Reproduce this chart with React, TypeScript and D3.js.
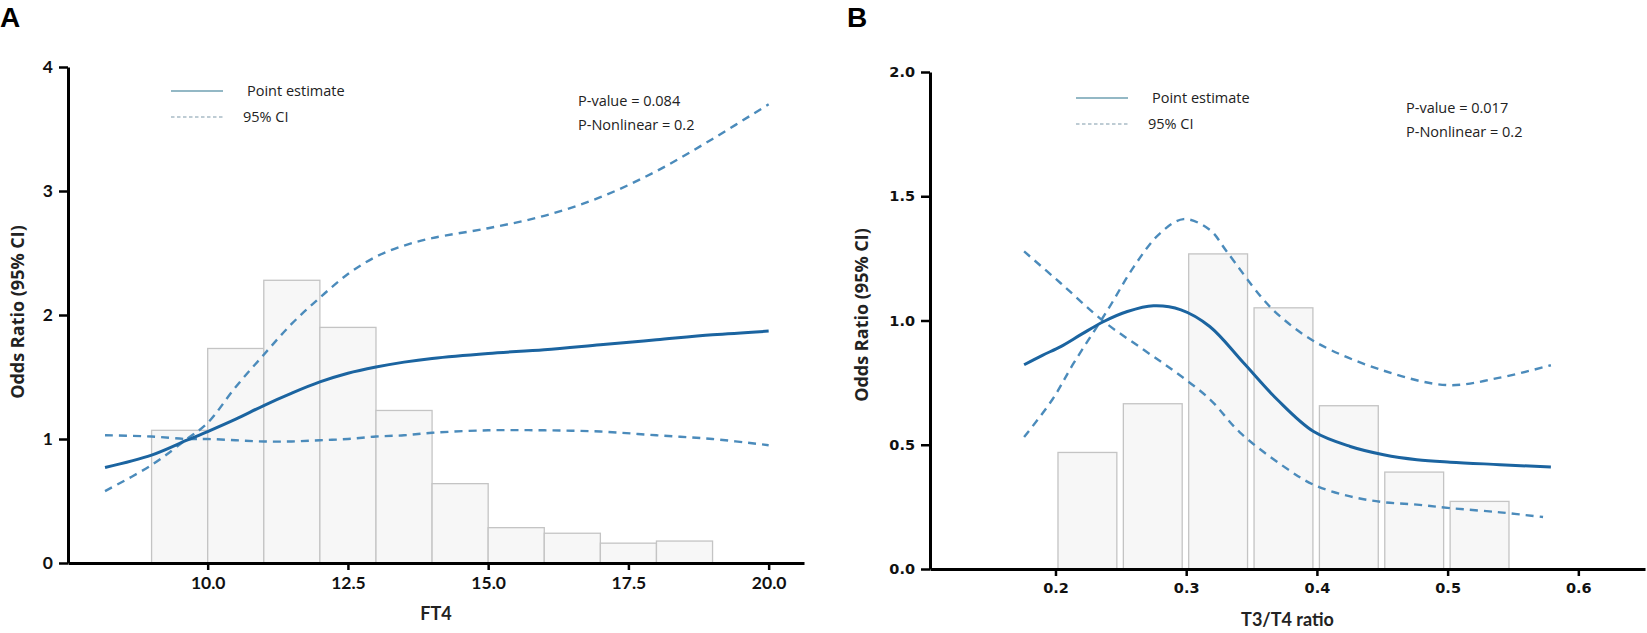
import * as d3 from 'd3';
import { useEffect, useRef } from 'react';

// FT4 panel (A)
const ft4Edges = [9, 10, 11, 12, 13, 14, 15, 16, 17, 18];
const ft4Hist = [1.07, 1.73, 2.28, 1.9, 1.23, 0.64, 0.285, 0.24, 0.16, 0.177];
const ft4Grid = [8.17, 9, 9.63, 10, 10.5, 11, 11.5, 12, 12.5, 13, 13.5, 14, 15, 16, 17, 18, 19, 20];
const ft4Estimate = [0.77, 0.87, 0.99, 1.06, 1.16, 1.27, 1.37, 1.46, 1.53, 1.58, 1.62, 1.65, 1.69, 1.72, 1.76, 1.8, 1.84, 1.87];
const ft4Upper = [0.58, 0.79, 1.0, 1.13, 1.42, 1.68, 1.93, 2.14, 2.33, 2.47, 2.56, 2.62, 2.7, 2.8, 2.95, 3.16, 3.42, 3.7];
const ft4Lower = [1.03, 1.02, 1.0, 1.0, 0.99, 0.98, 0.98, 0.99, 1.0, 1.02, 1.03, 1.05, 1.07, 1.07, 1.06, 1.03, 1.0, 0.95];
const ft4XTicks = [10, 12.5, 15, 17.5, 20];
const ft4YTicks = [0, 1, 2, 3, 4];

// T3/T4 ratio panel (B)
const ratioEdges = [0.2, 0.25, 0.3, 0.35, 0.4, 0.45, 0.5];
const ratioHist = [0.469, 0.665, 1.268, 1.051, 0.657, 0.39, 0.272];
const ratioEstX = [0.176, 0.19, 0.204, 0.22, 0.237, 0.255, 0.275, 0.296, 0.318, 0.344, 0.37, 0.3975, 0.4255, 0.451, 0.4765, 0.502, 0.54, 0.579];
const ratioEst = [0.822, 0.86, 0.895, 0.945, 0.996, 1.036, 1.059, 1.043, 0.976, 0.829, 0.68, 0.553, 0.493, 0.46, 0.44, 0.43, 0.42, 0.41];
const ratioUpX = [0.176, 0.1975, 0.214, 0.24, 0.26, 0.28, 0.298, 0.318, 0.331, 0.357, 0.372, 0.4, 0.45, 0.5, 0.54, 0.579];
const ratioUp = [0.531, 0.681, 0.829, 1.043, 1.217, 1.351, 1.408, 1.365, 1.278, 1.097, 1.016, 0.91, 0.8, 0.74, 0.77, 0.82];
const ratioLoX = [0.176, 0.204, 0.237, 0.2675, 0.293, 0.3185, 0.341, 0.3745, 0.3975, 0.4255, 0.451, 0.4765, 0.502, 0.54, 0.573];
const ratioLo = [1.278, 1.15, 0.996, 0.882, 0.788, 0.681, 0.55, 0.413, 0.339, 0.292, 0.269, 0.259, 0.245, 0.228, 0.209];
const ratioXTicks = [0.2, 0.3, 0.4, 0.5, 0.6];
const ratioYTicks = [0, 0.5, 1, 1.5, 2];

const solidColor = '#1b64a0';
const dashColor = '#4b8bbb';

type AxisProps = {
  scale: d3.ScaleLinear<number, number>;
  orient: 'bottom' | 'left';
  ticks: number[];
  format: string;
  tickSize: number;
  padding: number;
  font: string;
  fontSize: number;
  at: number;
};

const Axis = ({ scale, orient, ticks, format, tickSize, padding, font, fontSize, at }: AxisProps) => {
  const ref = useRef<SVGGElement>(null);
  useEffect(() => {
    if (!ref.current) return;
    const g = d3.select(ref.current);
    const axis = (orient === 'bottom' ? d3.axisBottom(scale) : d3.axisLeft(scale))
      .tickValues(ticks)
      .tickFormat(d3.format(format) as any)
      .tickSize(tickSize)
      .tickSizeOuter(0)
      .tickPadding(padding);
    g.call(axis as any);
    g.select('.domain').attr('stroke', '#000').attr('stroke-width', 3);
    g.selectAll('.tick line').attr('stroke', '#000').attr('stroke-width', 2.5);
    g.selectAll('.tick text')
      .attr('fill', '#111')
      .style('font-family', font)
      .style('font-size', `${fontSize}px`)
      .style('font-weight', 700);
  }, [scale, orient, ticks, format, tickSize, padding, font, fontSize]);
  const transform = orient === 'bottom' ? `translate(0,${at})` : `translate(${at},0)`;
  return <g ref={ref} transform={transform} />;
};

type PanelProps = {
  letter: string;
  left: number;
  x: d3.ScaleLinear<number, number>;
  y: d3.ScaleLinear<number, number>;
  edges: number[];
  hist: number[];
  binWidth: number;
  barInset: [number, number];
  curves: { xs: number[]; ys: number[]; dashed: boolean }[];
  xTicks: number[];
  yTicks: number[];
  xFormat: string;
  yFormat: string;
  tickFont: string;
  tickSize: number;
  xLabel: string;
  yLabelX: number;
  yLabelY: number;
  legendX: number;
  legendY: number;
  pX: number;
  pY: number;
  pValue: string;
  pNonlinear: string;
};

const Panel = (p: PanelProps) => {
  const [x0, x1] = p.x.range();
  const [y0] = p.y.range();
  const line = d3
    .line<[number, number]>()
    .x((d) => p.x(d[0]))
    .y((d) => p.y(d[1]))
    .curve(d3.curveCatmullRom.alpha(0.5));
  const legendFont = { fontFamily: 'Open Sans', fontSize: 14.5, fill: '#222' };

  return (
    <g>
      <text x={p.left} y={27} style={{ fontFamily: 'Liberation Sans', fontSize: 28, fontWeight: 700 }}>
        {p.letter}
      </text>

      {p.edges.map((e, i) => {
        const bx = p.x(e) + p.barInset[0];
        const bw = p.x(e + p.binWidth) - p.x(e) - p.barInset[0] - p.barInset[1];
        return (
          <rect
            key={i}
            x={bx}
            y={p.y(p.hist[i])}
            width={bw}
            height={p.y(0) - p.y(p.hist[i])}
            fill="#f7f7f7"
            stroke="#c4c4c4"
            strokeWidth={1.3}
          />
        );
      })}

      {p.curves.map((c, i) => (
        <path
          key={i}
          d={line(c.xs.map((v, j) => [v, c.ys[j]] as [number, number])) ?? ''}
          fill="none"
          stroke={c.dashed ? dashColor : solidColor}
          strokeWidth={c.dashed ? 2.4 : 3}
          strokeDasharray={c.dashed ? '8,6' : undefined}
        />
      ))}

      <Axis scale={p.x} orient="bottom" ticks={p.xTicks} format={p.xFormat} tickSize={7} padding={7} font={p.tickFont} fontSize={p.tickSize} at={y0} />
      <Axis scale={p.y} orient="left" ticks={p.yTicks} format={p.yFormat} tickSize={9} padding={6} font={p.tickFont} fontSize={p.tickSize} at={x0} />

      <text
        x={(x0 + x1) / 2}
        y={y0 + 57}
        textAnchor="middle"
        style={{ fontFamily: 'Lato', fontSize: 18, fontWeight: 700, fill: '#222' }}
      >
        {p.xLabel}
      </text>
      <text
        transform={`translate(${p.yLabelX},${p.yLabelY}) rotate(-90)`}
        textAnchor="middle"
        style={{ fontFamily: 'Open Sans', fontSize: 18, fontWeight: 700, fill: '#222' }}
      >
        Odds Ratio (95% CI)
      </text>

      <line x1={p.legendX} x2={p.legendX + 52} y1={p.legendY} y2={p.legendY} stroke="#6fa0b2" strokeWidth={1.6} />
      <text x={p.legendX + 76} y={p.legendY + 5} style={legendFont}>
        Point estimate
      </text>
      <line
        x1={p.legendX}
        x2={p.legendX + 52}
        y1={p.legendY + 26}
        y2={p.legendY + 26}
        stroke="#a9bcc6"
        strokeWidth={1.4}
        strokeDasharray="3.5,2.5"
      />
      <text x={p.legendX + 72} y={p.legendY + 31} style={legendFont}>
        95% CI
      </text>

      <text x={p.pX} y={p.pY} style={legendFont}>
        {p.pValue}
      </text>
      <text x={p.pX} y={p.pY + 24} style={legendFont}>
        {p.pNonlinear}
      </text>
    </g>
  );
};

export default function App() {
  const xA = d3.scaleLinear().domain([7.51, 20.63]).range([68, 804]);
  const yA = d3.scaleLinear().domain([0, 4]).range([563, 67]);
  const xB = d3.scaleLinear().domain([0.104, 0.651]).range([930, 1645]);
  const yB = d3.scaleLinear().domain([0, 2]).range([569, 72]);

  return (
    <svg width={1647} height={633} style={{ position: 'absolute', left: 0, top: 0, background: '#fff' }}>
      <Panel
        letter="A"
        left={0}
        x={xA}
        y={yA}
        edges={ft4Edges}
        hist={ft4Hist}
        binWidth={1}
        barInset={[0, 0]}
        curves={[
          { xs: ft4Grid, ys: ft4Upper, dashed: true },
          { xs: ft4Grid, ys: ft4Lower, dashed: true },
          { xs: ft4Grid, ys: ft4Estimate, dashed: false },
        ]}
        xTicks={ft4XTicks}
        yTicks={ft4YTicks}
        xFormat=".1f"
        yFormat="d"
        tickFont="Lato"
        tickSize={17.5}
        xLabel="FT4"
        yLabelX={24}
        yLabelY={312}
        legendX={171}
        legendY={91}
        pX={578}
        pY={106}
        pValue="P-value = 0.084"
        pNonlinear="P-Nonlinear = 0.2"
      />
      <Panel
        letter="B"
        left={847}
        x={xB}
        y={yB}
        edges={ratioEdges}
        hist={ratioHist}
        binWidth={0.05}
        barInset={[2.5, 4]}
        curves={[
          { xs: ratioUpX, ys: ratioUp, dashed: true },
          { xs: ratioLoX, ys: ratioLo, dashed: true },
          { xs: ratioEstX, ys: ratioEst, dashed: false },
        ]}
        xTicks={ratioXTicks}
        yTicks={ratioYTicks}
        xFormat=".1f"
        yFormat=".1f"
        tickFont="DejaVu Sans"
        tickSize={14.5}
        xLabel="T3/T4 ratio"
        yLabelX={868}
        yLabelY={315}
        legendX={1076}
        legendY={98}
        pX={1406}
        pY={113}
        pValue="P-value = 0.017"
        pNonlinear="P-Nonlinear = 0.2"
      />
    </svg>
  );
}
